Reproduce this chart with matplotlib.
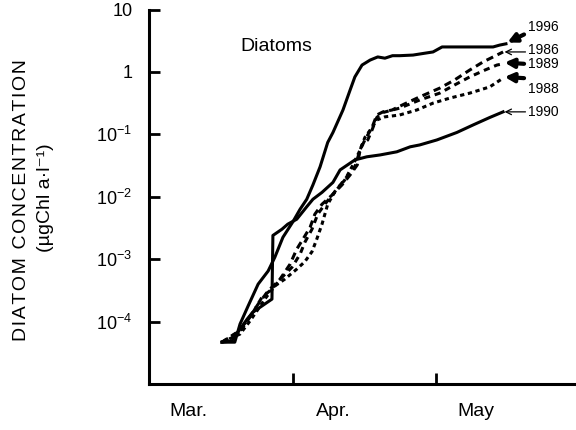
import matplotlib
matplotlib.use('Agg')
import matplotlib.pyplot as plt
import numpy as np

plt.rcParams['font.family'] = ['Liberation Sans', 'DejaVu Sans']
plt.rcParams['mathtext.fontset'] = 'custom'
plt.rcParams['mathtext.rm'] = 'Liberation Sans'
plt.rcParams['mathtext.it'] = 'Liberation Sans:italic'
plt.rcParams['mathtext.default'] = 'regular'

# x: days after 1 March ; y: log10 of diatom concentration (ugChl a / l)
day_1996 = [16.1, 18.8, 19.9, 21.6, 23.7, 25.8, 27.2, 28.9, 31.0, 32.5, 33.9, 35.2, 36.7, 38.3, 39.4,
            41.5, 43.0, 44.0, 45.5, 47.2, 48.8, 50.3, 51.9, 53.4, 56.2, 58.7, 60.4, 62.3, 68.1, 73.0, 74.4, 75.7]
log_1996 = [-4.33, -4.33, -4.04, -3.75, -3.40, -3.19, -2.97, -2.65, -2.40, -2.20, -2.04, -1.81, -1.52, -1.13, -0.97,
            -0.61, -0.29, -0.08, 0.11, 0.19, 0.24, 0.22, 0.26, 0.26, 0.27, 0.30, 0.32, 0.40, 0.40, 0.40, 0.43, 0.45]

day_1990 = [16.1, 18.2, 19.9, 21.4, 22.6, 24.5, 26.6, 26.8, 28.7, 29.9, 31.8, 33.9, 35.2, 37.1, 39.4, 40.9,
            44.0, 46.5, 49.3, 52.8, 55.6, 57.6, 61.2, 65.4, 68.8, 72.3, 75.1]
log_1990 = [-4.33, -4.31, -4.12, -3.96, -3.85, -3.75, -3.64, -2.62, -2.52, -2.44, -2.36, -2.16, -2.04, -1.93, -1.77, -1.57,
            -1.41, -1.36, -1.33, -1.28, -1.20, -1.17, -1.09, -0.97, -0.85, -0.73, -0.64]

day_1986 = [16.1, 19.5, 21.6, 23.7, 25.8, 28.3, 30.4, 31.8, 33.1, 34.6, 35.6, 37.1, 39.4, 41.3, 43.0, 44.5,
            45.1, 46.1, 47.6, 48.6, 49.9, 51.8, 54.5, 57.6, 61.8, 64.9, 68.1, 70.9, 73.8, 75.1]
log_1986 = [-4.33, -4.17, -3.96, -3.72, -3.51, -3.32, -3.08, -2.84, -2.68, -2.49, -2.28, -2.12, -1.96, -1.81, -1.65, -1.49,
            -1.25, -1.09, -0.89, -0.69, -0.64, -0.61, -0.51, -0.40, -0.26, -0.13, 0.03, 0.16, 0.27, 0.32]

day_1989 = [16.1, 20.3, 22.4, 24.5, 26.6, 28.7, 30.8, 32.5, 33.5, 35.0, 36.2, 37.7, 40.2, 42.3, 44.0, 45.1,
            45.5, 46.7, 47.6, 48.6, 49.9, 53.4, 57.6, 61.8, 64.9, 68.1, 71.3, 73.8, 75.1]
log_1989 = [-4.33, -4.12, -3.88, -3.61, -3.48, -3.29, -3.13, -2.92, -2.73, -2.52, -2.28, -2.12, -1.88, -1.68, -1.52, -1.25,
            -1.17, -1.09, -0.93, -0.73, -0.65, -0.58, -0.45, -0.34, -0.21, -0.08, 0.03, 0.11, 0.13]

day_1988 = [16.1, 19.9, 22.0, 23.7, 25.1, 27.2, 29.3, 31.8, 33.5, 35.0, 36.0, 37.1, 38.3, 39.8, 41.9, 43.6,
            45.1, 46.1, 47.6, 48.6, 50.3, 53.4, 57.0, 60.4, 63.9, 68.1, 72.3, 75.1]
log_1988 = [-4.33, -4.20, -3.99, -3.80, -3.64, -3.43, -3.32, -3.16, -3.04, -2.88, -2.68, -2.44, -2.12, -1.92, -1.73, -1.49,
            -1.25, -1.05, -0.89, -0.77, -0.72, -0.69, -0.61, -0.50, -0.42, -0.34, -0.24, -0.10]

years = ['1996', '1986', '1989', '1988', '1990']
label_log = [0.72, 0.35, 0.13, -0.27, -0.64]
arrow_filled = [True, False, True, True, False]

month_names = ['Mar.', 'Apr.', 'May']
month_label_days = [9.0, 39.4, 69.4]
month_start_days = [31, 61]

ytick_vals = [1e-4, 1e-3, 1e-2, 1e-1, 1, 10]
ytick_labels = ['$10^{-4}$', '$10^{-3}$', '$10^{-2}$', '$10^{-1}$', '1', '10']

fig = plt.figure(figsize=(5.76, 4.30), dpi=100)
ax = fig.add_axes([149/576, 46/430, 427/576, 374.5/430])

series = {
    '1996': (day_1996, log_1996, dict(linestyle='-')),
    '1990': (day_1990, log_1990, dict(linestyle='-')),
    '1986': (day_1986, log_1986, dict(linestyle=(0, (2.4, 1.6)))),
    '1989': (day_1989, log_1989, dict(linestyle=(0, (2.0, 1.6)))),
    '1988': (day_1988, log_1988, dict(linestyle=(0, (1.4, 1.2)))),
}
for yr, (d, lg, st) in series.items():
    ax.plot(d, 10 ** np.array(lg), color='black', lw=2.2, solid_joinstyle='round', **st)

ax.set_yscale('log')
ax.set_ylim(1e-5, 10)
ax.set_xlim(0.8, 90.4)

ax.set_yticks(ytick_vals)
ax.set_yticklabels(ytick_labels)
ax.yaxis.set_minor_locator(matplotlib.ticker.NullLocator())
ax.set_xticks(month_start_days)
ax.set_xticklabels([])
ax.set_xticks(month_label_days, minor=True)
ax.set_xticklabels(month_names, minor=True)

ax.tick_params(axis='y', which='major', direction='in', length=8, width=2, labelsize=13, pad=12)
ax.tick_params(axis='x', which='major', direction='in', length=8, width=2)
ax.tick_params(axis='x', which='minor', length=0, labelsize=14, pad=14)

for s in ['top', 'right']:
    ax.spines[s].set_visible(False)
for s in ['left', 'bottom']:
    ax.spines[s].set_linewidth(2.2)

ax.text(0.215, 0.9, 'Diatoms', transform=ax.transAxes, fontsize=14, va='center', ha='left')

ends = {'1996': (day_1996[-1], log_1996[-1]), '1986': (day_1986[-1], log_1986[-1]),
        '1989': (day_1989[-1], log_1989[-1]), '1988': (day_1988[-1], log_1988[-1]),
        '1990': (day_1990[-1], log_1990[-1])}
for yr, ll, filled in zip(years, label_log, arrow_filled):
    ex, ey = ends[yr]
    ax.text(80.3, 10 ** ll, yr, fontsize=10, va='center', ha='left', clip_on=False)
    if filled:
        tail_y = ll - 0.12 if yr == '1996' else ey
        ax.annotate('', xy=(ex + 0.3, 10 ** (ey + 0.02)), xytext=(79.5, 10 ** tail_y),
                    arrowprops=dict(arrowstyle='-|>', lw=3.0, mutation_scale=13, color='black',
                                    shrinkA=0, shrinkB=0), annotation_clip=False)
    else:
        ax.annotate('', xy=(ex + 0.3, 10 ** ey), xytext=(79.8, 10 ** ey),
                    arrowprops=dict(arrowstyle='->', lw=0.9, mutation_scale=10, color='black',
                                    shrinkA=0, shrinkB=0), annotation_clip=False)

label1 = '\u200a'.join('DIATOM CONCENTRATION')
fig.text(22/576, 1 - 200/430, label1, rotation=90, fontsize=14,
         ha='center', va='center')
fig.text(45/576, 1 - 198/430, '(µgChl a·l⁻¹)', rotation=90, fontsize=14,
         ha='center', va='center')

fig.savefig('out.png', dpi=100)
